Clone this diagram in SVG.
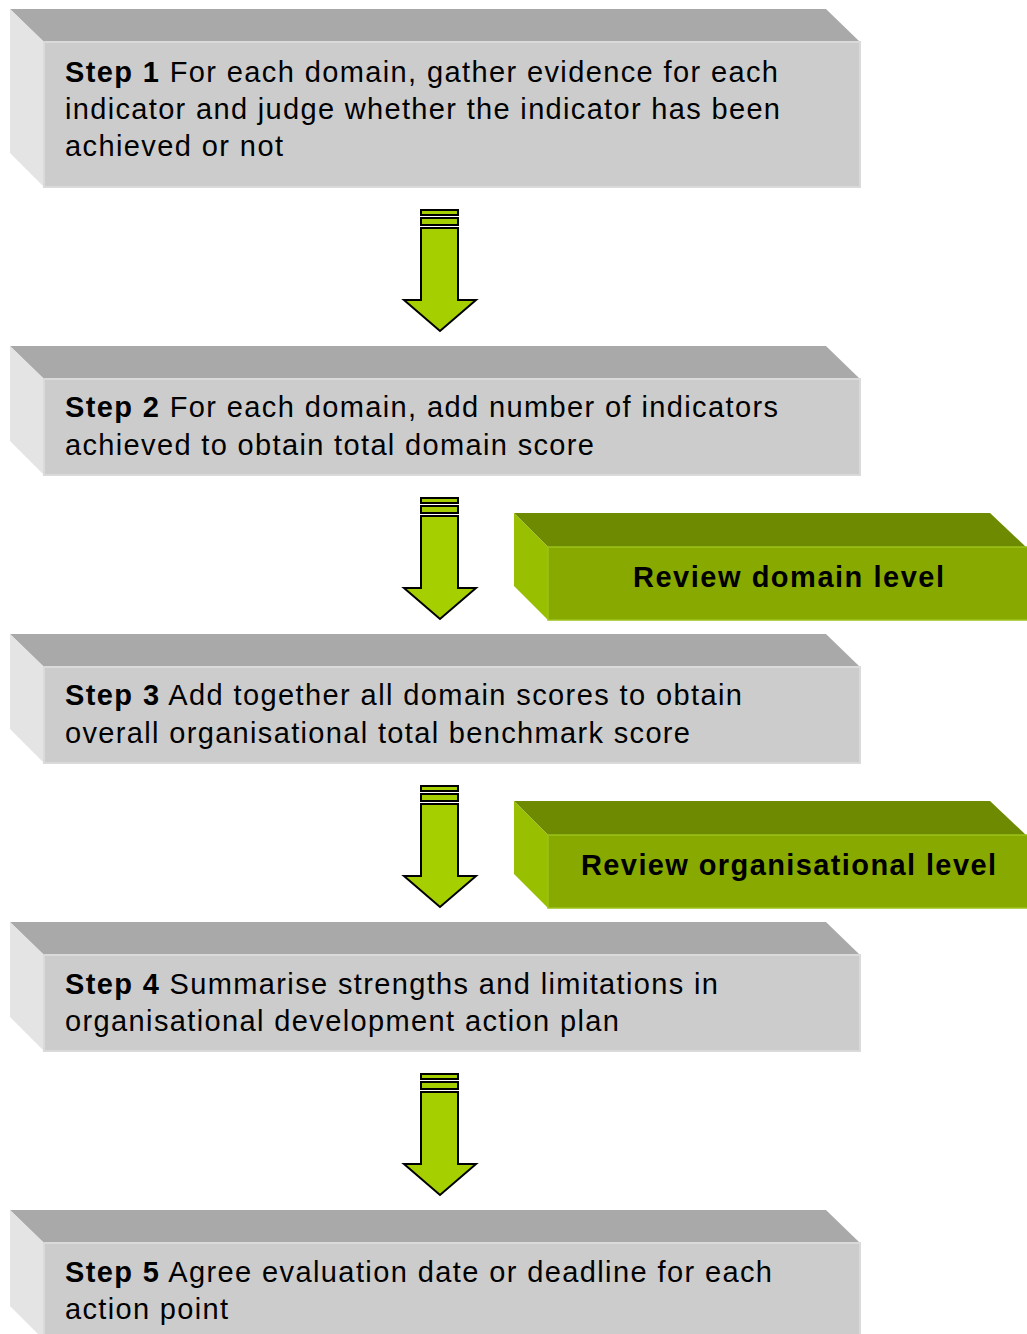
<svg xmlns="http://www.w3.org/2000/svg" width="1027" height="1334" viewBox="0 0 1027 1334">
<style>
.top{fill:#a9a9a9}
.left{fill:#e4e4e4}
.front{fill:#cccccc;stroke:#dadada;stroke-width:2}
.gtop{fill:#6e8a00}
.gleft{fill:#99c000}
.gfront{fill:#88aa00;stroke:#9cc21a;stroke-width:1.5}
.t{font-family:"Liberation Sans",Arial,sans-serif;font-size:29px;fill:#000}
.b{font-weight:bold}
.gt{font-family:"Liberation Sans",Arial,sans-serif;font-size:29px;font-weight:bold;fill:#000}
.arr{fill:#a6cf00;stroke:#000;stroke-width:2;stroke-linejoin:miter}
</style>
<defs>
<g id="arrow">
<rect class="arr" x="421" y="0" width="37" height="5"/>
<rect class="arr" x="421" y="8" width="37" height="7"/>
<polygon class="arr" points="421,18 458,18 458,90 476,90 440,121 404,90 421,90"/>
</g>
</defs>
<g id="connectors">
<use href="#arrow" y="210"/>
<use href="#arrow" y="498"/>
<use href="#arrow" y="786"/>
<use href="#arrow" y="1074"/>
</g>
<g id="step1">
<polygon class="top" points="10,9 826,9 860,42 44,42"/>
<polygon class="left" points="10,9 44,42 44,187 10,153"/>
<rect class="front" x="44" y="42" width="816" height="145"/>
<text class="t" x="65" y="82" textLength="713" lengthAdjust="spacing"><tspan class="b">Step 1</tspan> For each domain, gather evidence for each</text>
<text class="t" x="65" y="119" textLength="715" lengthAdjust="spacing">indicator and judge whether the indicator has been</text>
<text class="t" x="65" y="156" textLength="218" lengthAdjust="spacing">achieved or not</text>
</g>
<g id="step2">
<polygon class="top" points="10,346 826,346 860,379 44,379"/>
<polygon class="left" points="10,346 44,379 44,475 10,441"/>
<rect class="front" x="44" y="379" width="816" height="96"/>
<text class="t" x="65" y="417" textLength="713" lengthAdjust="spacing"><tspan class="b">Step 2</tspan> For each domain, add number of indicators</text>
<text class="t" x="65" y="455" textLength="529" lengthAdjust="spacing">achieved to obtain total domain score</text>
</g>
<g id="step3">
<polygon class="top" points="10,634 826,634 860,667 44,667"/>
<polygon class="left" points="10,634 44,667 44,763 10,729"/>
<rect class="front" x="44" y="667" width="816" height="96"/>
<text class="t" x="65" y="705" textLength="677" lengthAdjust="spacing"><tspan class="b">Step 3</tspan> Add together all domain scores to obtain</text>
<text class="t" x="65" y="743" textLength="625" lengthAdjust="spacing">overall organisational total benchmark score</text>
</g>
<g id="step4">
<polygon class="top" points="10,922 826,922 860,955 44,955"/>
<polygon class="left" points="10,922 44,955 44,1051 10,1017"/>
<rect class="front" x="44" y="955" width="816" height="96"/>
<text class="t" x="65" y="994" textLength="653" lengthAdjust="spacing"><tspan class="b">Step 4</tspan> Summarise strengths and limitations in</text>
<text class="t" x="65" y="1031" textLength="554" lengthAdjust="spacing">organisational development action plan</text>
</g>
<g id="step5">
<polygon class="top" points="10,1210 826,1210 860,1243 44,1243"/>
<polygon class="left" points="10,1210 44,1243 44,1340 10,1306"/>
<rect class="front" x="44" y="1243" width="816" height="100"/>
<text class="t" x="65" y="1282" textLength="707" lengthAdjust="spacing"><tspan class="b">Step 5</tspan> Agree evaluation date or deadline for each</text>
<text class="t" x="65" y="1319" textLength="163" lengthAdjust="spacing">action point</text>
</g>
<g id="review-domain">
<polygon class="gtop" points="514,513 990,513 1027,548 548,547"/>
<polygon class="gleft" points="514,513 548,547 548,620 514,586"/>
<rect class="gfront" x="548" y="547" width="482" height="73"/>
<text class="gt" x="633" y="587" textLength="311" lengthAdjust="spacing">Review domain level</text>
</g>
<g id="review-organisational">
<polygon class="gtop" points="514,801 990,801 1027,836 548,835"/>
<polygon class="gleft" points="514,801 548,835 548,908 514,874"/>
<rect class="gfront" x="548" y="835" width="482" height="73"/>
<text class="gt" x="581" y="875" textLength="415" lengthAdjust="spacing">Review organisational level</text>
</g>
</svg>
